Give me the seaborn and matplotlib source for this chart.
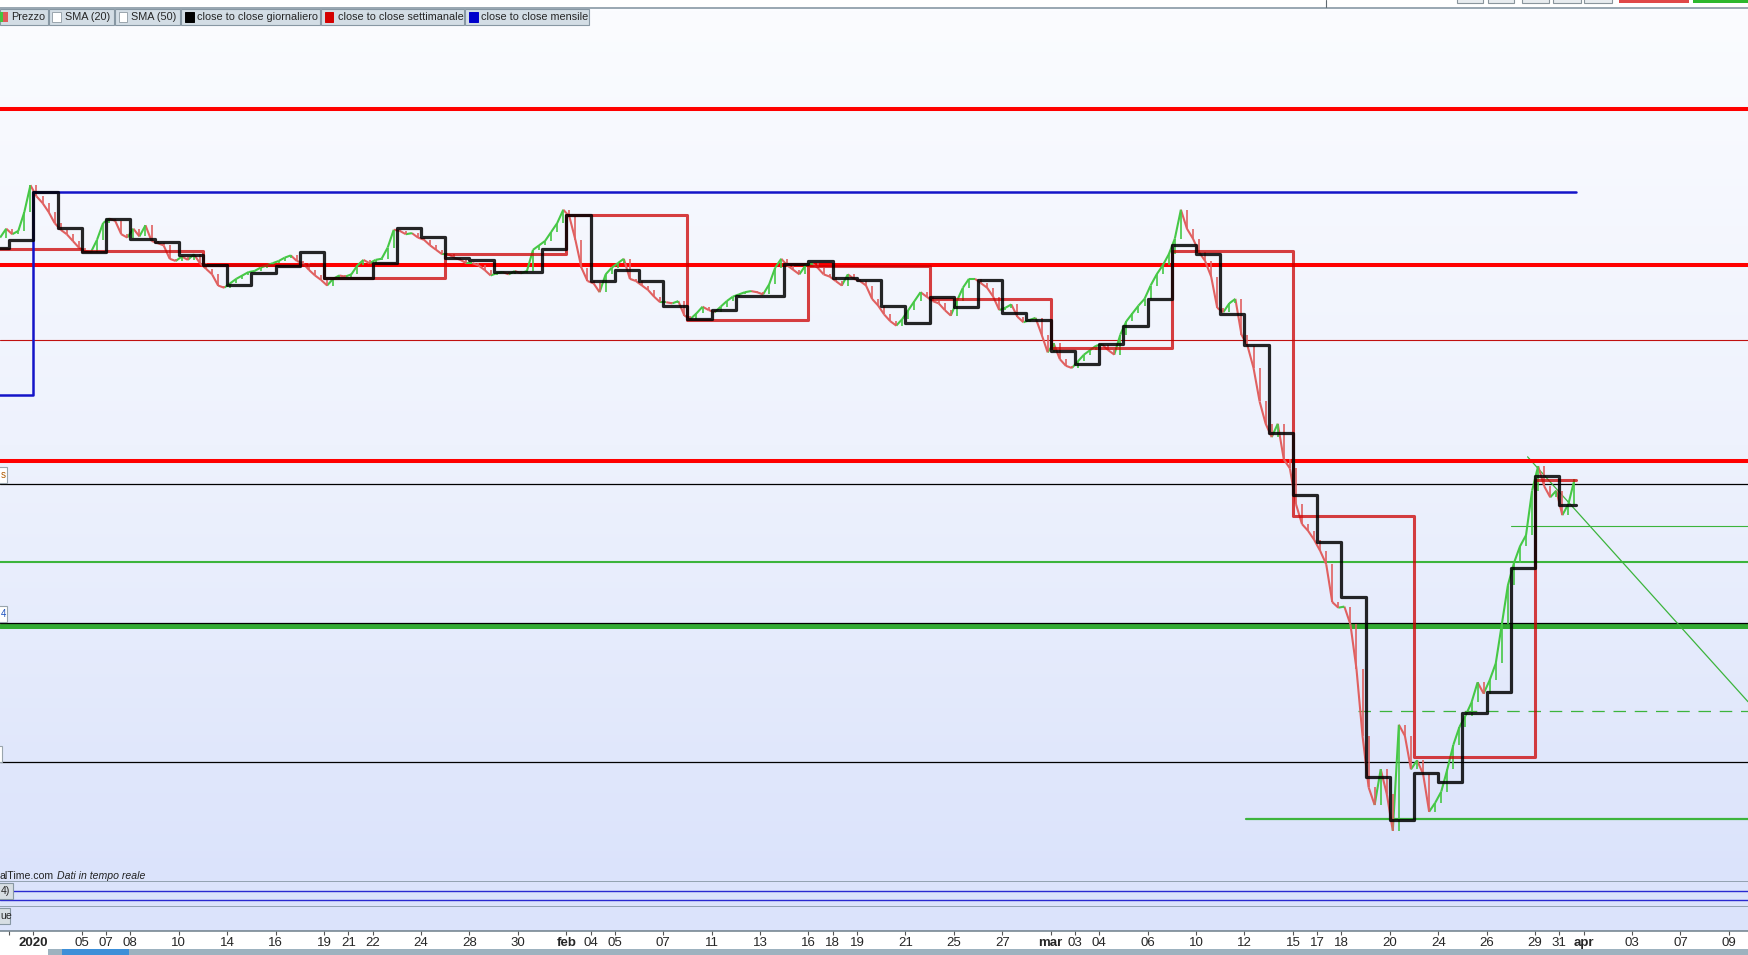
import numpy as np
import matplotlib
matplotlib.use("Agg")
import matplotlib.pyplot as plt
import seaborn as sns
import pandas as pd
from matplotlib.collections import LineCollection
from matplotlib.colors import LinearSegmentedColormap
from matplotlib.patches import Rectangle
from matplotlib.lines import Line2D
from matplotlib import font_manager

# ---- dati (GBP/USD, sessioni giornaliere gen-apr 2020) ----
sessions = list(range(-2, 64))
last_time = 63.7

# prezzo: 4 letture per sessione (prima e ultima sessione parziali)
price_by_session = [
    [1.3161, 1.3185],
    [1.3170, 1.3179, 1.3230, 1.3302],
    [1.3272, 1.3254, 1.3230, 1.3200],
    [1.3182, 1.3170, 1.3152, 1.3134],
    [1.3125, 1.3122, 1.3155, 1.3200],
    [1.3212, 1.3206, 1.3170, 1.3161],
    [1.3185, 1.3164, 1.3194, 1.3152],
    [1.3146, 1.3140, 1.3104, 1.3098],
    [1.3110, 1.3101, 1.3116, 1.3092],
    [1.3077, 1.3062, 1.3032, 1.3026],
    [1.3038, 1.3050, 1.3059, 1.3068],
    [1.3071, 1.3080, 1.3086, 1.3092],
    [1.3098, 1.3107, 1.3113, 1.3098],
    [1.3092, 1.3074, 1.3059, 1.3047],
    [1.3032, 1.3050, 1.3059, 1.3056],
    [1.3062, 1.3086, 1.3101, 1.3092],
    [1.3101, 1.3104, 1.3134, 1.3182],
    [1.3179, 1.3170, 1.3173, 1.3161],
    [1.3155, 1.3140, 1.3128, 1.3116],
    [1.3116, 1.3107, 1.3101, 1.3092],
    [1.3092, 1.3086, 1.3074, 1.3059],
    [1.3065, 1.3068, 1.3062, 1.3071],
    [1.3065, 1.3071, 1.3128, 1.3140],
    [1.3152, 1.3176, 1.3200, 1.3236],
    [1.3218, 1.3155, 1.3080, 1.3044],
    [1.3038, 1.3014, 1.3062, 1.3080],
    [1.3092, 1.3104, 1.3050, 1.3044],
    [1.3032, 1.3020, 1.3002, 1.2987],
    [1.2987, 1.2984, 1.2990, 1.2951],
    [1.2942, 1.2957, 1.2975, 1.2966],
    [1.2960, 1.2975, 1.2990, 1.3002],
    [1.3008, 1.3014, 1.3017, 1.3014],
    [1.3008, 1.3035, 1.3080, 1.3104],
    [1.3086, 1.3074, 1.3062, 1.3086],
    [1.3092, 1.3080, 1.3062, 1.3056],
    [1.3044, 1.3032, 1.3062, 1.3050],
    [1.3044, 1.3032, 1.2996, 1.2978],
    [1.2954, 1.2936, 1.2924, 1.2942],
    [1.2966, 1.2990, 1.3014, 1.3002],
    [1.2990, 1.2984, 1.2966, 1.2951],
    [1.2990, 1.3026, 1.3050, 1.3050],
    [1.3038, 1.3026, 1.3002, 1.2966],
    [1.2972, 1.2981, 1.2948, 1.2933],
    [1.2939, 1.2945, 1.2900, 1.2852],
    [1.2876, 1.2834, 1.2816, 1.2810],
    [1.2828, 1.2846, 1.2858, 1.2870],
    [1.2873, 1.2858, 1.2846, 1.2900],
    [1.2936, 1.2957, 1.2978, 1.2996],
    [1.3032, 1.3062, 1.3086, 1.3116],
    [1.3158, 1.3236, 1.3185, 1.3158],
    [1.3122, 1.3098, 1.3056, 1.2972],
    [1.2960, 1.2984, 1.2996, 1.2900],
    [1.2870, 1.2810, 1.2720, 1.2660],
    [1.2624, 1.2660, 1.2564, 1.2540],
    [1.2444, 1.2390, 1.2372, 1.2348],
    [1.2318, 1.2282, 1.2180, 1.2165],
    [1.2168, 1.2120, 1.2000, 1.1820],
    [1.1682, 1.1634, 1.1730, 1.1664],
    [1.1565, 1.1850, 1.1820, 1.1730],
    [1.1754, 1.1718, 1.1616, 1.1640],
    [1.1670, 1.1730, 1.1796, 1.1844],
    [1.1874, 1.1910, 1.1964, 1.1934],
    [1.1970, 1.2015, 1.2120, 1.2225],
    [1.2285, 1.2330, 1.2360, 1.2480],
    [1.2546, 1.2492, 1.2462, 1.2480],
    [1.2414, 1.2444, 1.2510],
]

# close to close giornaliero (una soglia per sessione)
daily_level = [
    1.3134, 1.3154, 1.3284, 1.3188, 1.3123, 1.3211, 1.3156, 1.3150, 1.3114, 1.3087,
    1.3033, 1.3067, 1.3084, 1.3122, 1.3052, 1.3052, 1.3093, 1.3186, 1.3162, 1.3107,
    1.3102, 1.3069, 1.3069, 1.3129, 1.3221, 1.3045, 1.3075, 1.3045, 1.2978, 1.2942,
    1.2966, 1.3004, 1.3004, 1.3091, 1.3098, 1.3051, 1.3047, 1.2977, 1.2932, 1.3000,
    1.2973, 1.3048, 1.2957, 1.2939, 1.2856, 1.2822, 1.2874, 1.2923, 1.2997, 1.3140,
    1.3116, 1.2955, 1.2871, 1.2635, 1.2467, 1.2341, 1.2194, 1.1710, 1.1593, 1.1719,
    1.1695, 1.1882, 1.1937, 1.2272, 1.2519, 1.2440,
]

# close to close settimanale
week_start = [-3, 2, 7, 12, 17, 22, 27, 32, 37, 42, 47, 52, 57, 62]
weekly_level = [1.3131, 1.3125, 1.3088, 1.3051, 1.3118, 1.3221, 1.2939,
                1.3084, 1.2997, 1.2863, 1.3124, 1.2411, 1.1764, 1.2508]

# close to close mensile
month_start = [-3, 0]
monthly_level = [1.2738, 1.3284]

# livelli orizzontali disegnati
red_thick_levels = [1.3506, 1.3088, 1.2560]
red_thin_levels = [1.2885]
black_thin_levels = [1.2499, 1.1749]
green_level = 1.2288
green_thick_level = 1.2117
black_on_green_level = 1.2124
green_dashed = (54.7, 1.1887)
green_low = (50.07, 1.1597)
green_short = (61.0, 1.2386)
trend_pts = [(61.69, 1.2571), (70.79, 1.1912)]

# etichette asse x
tick_pos = [-1, 0, 2, 3, 4, 6, 8, 10, 12, 13, 14, 16, 18, 20, 22, 23, 24, 26, 28, 30,
            32, 33, 34, 36, 38, 40, 42, 43, 44, 46, 48, 50, 52, 53, 54, 56, 58, 60,
            62, 63, 64, 66, 68, 70]
tick_lab = ["", "2020", "05", "07", "08", "10", "14", "16", "19", "21", "22", "24",
            "28", "30", "feb", "04", "05", "07", "11", "13", "16", "18", "19", "21",
            "25", "27", "mar", "03", "04", "06", "10", "12", "15", "17", "18", "20",
            "24", "26", "29", "31", "apr", "03", "07", "09"]
bold_lab = {"2020", "feb", "mar", "apr"}

legend_items = ["Prezzo", "SMA (20)", "SMA (50)", "close to close giornaliero",
                "close to close settimanale", "close to close mensile"]

# ---- stile ----
sns.set_theme(style="white")
plt.rcParams['font.family'] = ['Liberation Sans', 'DejaVu Sans']
installed = {f.name for f in font_manager.fontManager.ttflist}
tick_family = ['Liberation Sans Narrow'] if 'Liberation Sans Narrow' in installed else ['Liberation Sans']

W, H = 1748, 955
fig = plt.figure(figsize=(W / 100, H / 100), dpi=100)
fig.patch.set_facecolor("white")


def fy(py):
    return 1 - py / H


def frect(x0, y0, x1, y1, **kw):
    r = Rectangle((x0 / W, fy(y1)), (x1 - x0) / W, (y1 - y0) / H,
                  transform=fig.transFigure, **kw)
    fig.add_artist(r)
    return r


XL = (-1.381, 70.79)
YL = (1.1426, 1.3778)
gray = "#7f909c"

ax = fig.add_axes([0, fy(882.3), 1, fy(8.3) - fy(882.3)])
ax2 = fig.add_axes([0, fy(907.3), 1, fy(882.3) - fy(907.3)])
ax3 = fig.add_axes([0, fy(931), 1, fy(907.3) - fy(931)])

# sfondo sfumato
cmap = LinearSegmentedColormap.from_list("bg", ["#fbfcff", "#eef2fd", "#dbe3fb"])
ax.imshow(np.linspace(0, 1, 256).reshape(-1, 1), extent=(XL[0], XL[1], YL[0], YL[1]),
          aspect="auto", cmap=cmap, origin="upper", zorder=0)

# livelli orizzontali
for lv in red_thick_levels:
    ax.axhline(lv, color="#ff0000", lw=2.9, zorder=3)
for lv in red_thin_levels:
    ax.axhline(lv, color="#c01010", lw=0.8, zorder=2)
for lv in black_thin_levels:
    ax.axhline(lv, color="#000000", lw=0.9, zorder=2)
ax.axhline(green_level, color="#3cb43c", lw=1.5, zorder=2)
ax.axhline(green_thick_level, color="#33aa33", lw=3.6, zorder=2)
ax.axhline(black_on_green_level, color="#000000", lw=0.9, zorder=2)
ax.plot([green_dashed[0], XL[1]], [green_dashed[1]] * 2, color="#3cb43c", lw=0.9,
        dashes=(10, 7), zorder=2)
ax.plot([green_low[0], XL[1]], [green_low[1]] * 2, color="#3cb43c", lw=1.6, zorder=2)
ax.plot([green_short[0], XL[1]], [green_short[1]] * 2, color="#3cb43c", lw=0.8, zorder=2)
ax.plot([p[0] for p in trend_pts], [p[1] for p in trend_pts], color="#3cb43c", lw=0.9,
        zorder=2)

# prezzo: segmenti verdi / rossi (barre sottili)
px, py = [], []
for i, (s, vals) in enumerate(zip(sessions, price_by_session)):
    k0 = 4 - len(vals) if i == 0 else 0
    for k, v in enumerate(vals):
        px.append(s + (k0 + k + 0.5) / 4)
        py.append(v)
px, py = np.array(px), np.array(py)
up = py[1:] >= py[:-1]
cols = np.where(up, "#46c846", "#e06060")
segs = np.stack([np.column_stack([px[:-1], py[:-1]]),
                 np.column_stack([px[1:], py[1:]])], axis=1)
ax.add_collection(LineCollection(segs, colors=cols, linewidths=1.5, zorder=4))
ax.vlines(px[1:], np.minimum(py[:-1], py[1:]), np.maximum(py[:-1], py[1:]),
          colors=cols, lw=1.2, zorder=4)


def steps(starts, levels, end):
    return pd.DataFrame({"x": list(starts) + [end], "y": list(levels) + [levels[-1]]})


d = steps(week_start, weekly_level, last_time)
sns.lineplot(data=d, x="x", y="y", ax=ax, drawstyle="steps-post", color="#cc0000",
             alpha=0.75, lw=2.2, estimator=None, zorder=5)
d = steps(sessions, daily_level, last_time)
sns.lineplot(data=d, x="x", y="y", ax=ax, drawstyle="steps-post", color="#000000",
             alpha=0.85, lw=2.3, estimator=None, zorder=6)
d = steps(month_start, monthly_level, last_time)
sns.lineplot(data=d, x="x", y="y", ax=ax, drawstyle="steps-post", color="#1414c8",
             lw=1.8, estimator=None, zorder=5)

ax.set_xlim(*XL)
ax.set_ylim(*YL)
ax.set_xlabel("")
ax.set_ylabel("")
ax.set_xticks([])
ax.set_yticks([])
for sp in ["left", "right"]:
    ax.spines[sp].set_visible(False)
ax.spines["top"].set_color(gray)
ax.spines["top"].set_linewidth(1.1)
ax.spines["bottom"].set_color(gray)
ax.spines["bottom"].set_linewidth(1.1)

# pannello indicatore
ind_levels = [64, 28]
ax2.set_facecolor("#dbe3fb")
for lv in ind_levels:
    ax2.axhline(lv, color="#2a2ad0", lw=1.0)
ax2.set_ylim(0, 100)
ax2.set_xlim(*XL)
ax2.set_xticks([])
ax2.set_yticks([])
for sp in ["left", "right", "top"]:
    ax2.spines[sp].set_visible(False)
ax2.spines["bottom"].set_color(gray)
ax2.spines["bottom"].set_linewidth(1.1)

# pannello vuoto + asse date
ax3.set_facecolor("#dbe3fb")
ax3.set_xlim(*XL)
ax3.set_yticks([])
for sp in ["left", "right", "top"]:
    ax3.spines[sp].set_visible(False)
ax3.spines["bottom"].set_color("#6e7f8a")
ax3.spines["bottom"].set_linewidth(1.1)
ax3.set_xticks(tick_pos)
ax3.set_xticklabels(tick_lab)
ax3.tick_params(axis="x", direction="out", length=3, width=0.8, color="#555555",
                labelsize=9.5, pad=1.2, bottom=True)
for t in ax3.get_xticklabels():
    t.set_family(tick_family)
    if t.get_text() in bold_lab:
        t.set_fontweight("bold")

# barra legenda in alto
box_x = [(0, 48), (49, 114), (115, 180), (181, 320), (321, 464), (465, 589)]
icon_x = [None, 52.4, 118.6, 184.8, 324.5, 468.8]
icon_col = [None, "white", "white", "#000000", "#d40000", "#0000cc"]
text_x = [11.5, 65, 131.3, 197.1, 337.5, 481.4]
for (x0, x1), ix, ic, tx, lab in zip(box_x, icon_x, icon_col, text_x, legend_items):
    frect(x0, 9.3, x1, 25, facecolor="#d3dde5", edgecolor="#8797a3", lw=0.8, zorder=10)
    if ix is not None:
        frect(ix, 12.3, ix + 8.8, 21.7, facecolor=ic,
              edgecolor="#9aa5ad" if ic == "white" else ic, lw=0.7, zorder=11)
    fig.text(tx / W, fy(17.3), lab, fontsize=7.8, va="center", ha="left", zorder=12)
frect(0, 12.3, 2.6, 21.7, facecolor="#42c442", lw=0, zorder=11)
frect(2.6, 12.3, 7.7, 21.7, facecolor="#e05a5a", lw=0, zorder=11)

# elementi dell'interfaccia tagliati in alto
fig.add_artist(Line2D([1325.7 / W] * 2, [fy(0), fy(7.3)], color="#606a70", lw=0.8))
for x0, x1 in [(1456.7, 1483.3), (1487.7, 1514.3), (1522, 1549), (1553, 1580.7), (1584, 1611.7)]:
    frect(x0, -2, x1, 3.3, facecolor="#e8ecef", edgecolor="#8a959c", lw=0.8)
frect(1619, -2, 1689, 3.3, facecolor="#e04848", lw=0)
frect(1693, -2, 1750, 3.3, facecolor="#2db82d", lw=0)

# etichette di prezzo tagliate al bordo sinistro
frect(-2, 466.7, 7.3, 483.3, facecolor="white", edgecolor="#9aa5ad", lw=0.8, zorder=10)
fig.text(0.5 / W, fy(475), "s", fontsize=7, va="center", color="#b05a00", zorder=11)
frect(-2, 605.7, 7.3, 621.7, facecolor="white", edgecolor="#9aa5ad", lw=0.8, zorder=10)
fig.text(0.5 / W, fy(613.7), "4", fontsize=7, va="center", color="#1a50c0", zorder=11)
frect(-2, 745.7, 1.7, 762.3, facecolor="white", edgecolor="#9aa5ad", lw=0.8, zorder=10)

# testo sorgente
fig.text(0, fy(876), "alTime.com", fontsize=7.6, va="center", ha="left", color="#222222")
fig.text(57 / W, fy(876), "Dati in tempo reale", fontsize=7.6, va="center", ha="left",
         style="italic", color="#222222")

# riquadri etichette pannelli inferiori
frect(-2, 883, 13.3, 899, facecolor="#d7dee3", edgecolor="#8797a3", lw=0.8, zorder=10)
fig.text(0.5 / W, fy(891), "4)", fontsize=7.6, va="center", zorder=11)
frect(-2, 908, 10, 924, facecolor="#d7dee3", edgecolor="#8797a3", lw=0.8, zorder=10)
fig.text(0, fy(916), "ue", fontsize=7.6, va="center", zorder=11)

# barra inferiore
frect(0, 949, W, 956, facecolor="#9db2bf", lw=0)
frect(0, 949, 48, 956, facecolor="white", lw=0)
frect(62, 949, 129, 956, facecolor="#3d8fd8", lw=0)

fig.savefig("out.png", dpi=100)
